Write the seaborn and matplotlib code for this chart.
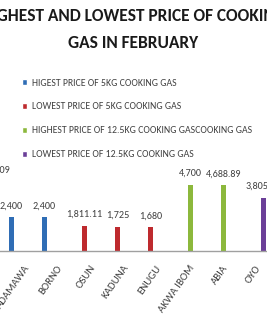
import numpy as np
import pandas as pd
import matplotlib
matplotlib.use("Agg")
import matplotlib.pyplot as plt
import seaborn as sns
from matplotlib.transforms import ScaledTranslation

# ---- data ----
series_names = [
    "HIGEST PRICE OF 5KG COOKING GAS",
    "LOWEST PRICE OF 5KG COOKING GAS",
    "HIGHEST PRICE OF 12.5KG COOKING GASCOOKING GAS",
    "LOWEST PRICE OF 12.5KG COOKING GAS",
]
series_colors = ["#2f6db5", "#be2a2e", "#8cb83c", "#6b3f98"]
states = ["RIVERS", "ADAMAWA", "BORNO", "OSUN", "KADUNA", "ENUGU",
          "AKWA IBOM", "ABIA", "OYO"]
bar_series = [series_names[2], series_names[0], series_names[0],
              series_names[1], series_names[1], series_names[1],
              series_names[2], series_names[2], series_names[3]]
prices = [4944.09, 2400, 2400, 1811.11, 1725, 1680, 4700, 4688.89, 3805.56]
title = "HIGHEST AND LOWEST PRICE OF COOKING\nGAS IN FEBRUARY"

df = pd.DataFrame({"state": states, "series": bar_series, "price": prices})

sns.set_style("white")
plt.rcParams["font.family"] = ["Carlito", "Roboto Condensed", "Archivo Narrow",
                               "PT Sans Narrow", "Lato", "DejaVu Sans"]

W, H = 267, 322
fig = plt.figure(figsize=(W / 100, H / 100), dpi=100)
ax = fig.add_axes([-27.5 / W, 71 / H, 297 / W, 84.2 / H])

sns.barplot(data=df, x="state", y="price", hue="series", order=states,
            hue_order=series_names, palette=series_colors, width=0.85,
            dodge=True, errorbar=None, saturation=1, ax=ax)

ax.set_xlim(-0.5, len(states) - 0.5)
ax.set_ylim(0, 6000)

# thinner bars (Excel gap look)
for p in ax.patches:
    cx = p.get_x() + p.get_width() / 2
    nw = 5 / 33
    p.set_width(nw)
    p.set_x(cx - nw / 2)
    p.set_linewidth(0)


def fmt(v):
    if np.isnan(v) or v == 0:
        return ""
    s = f"{v:,.2f}"
    return s[:-3] if s.endswith(".00") else s


for c in ax.containers:
    ax.bar_label(c, fmt=fmt, padding=5, fontsize=7.3, color="#404040")

ax.set_xlabel("")
ax.set_ylabel("")
ax.set_yticks([])
for s in ["left", "right", "top"]:
    ax.spines[s].set_visible(False)
ax.spines["bottom"].set_color("#a0a0a0")
ax.spines["bottom"].set_linewidth(1)

ax.tick_params(axis="x", length=0, pad=9, labelsize=7.8, labelcolor="#404040")
for lbl in ax.get_xticklabels():
    lbl.set_rotation(55)
    lbl.set_ha("right")
    lbl.set_rotation_mode("anchor")
    lbl.set_transform(lbl.get_transform() +
                      ScaledTranslation(2 / 100, 0, fig.dpi_scale_trans))

sns.move_legend(ax, loc="upper left", bbox_to_anchor=(22 / W, 1 - 78.5 / H),
                bbox_transform=fig.transFigure, frameon=False, title=None,
                fontsize=7, handlelength=0.55, handleheight=0.55,
                handletextpad=0.45, labelspacing=1.54, borderpad=0,
                borderaxespad=0, labelcolor="#404040")

fig.text(0.5, 1 - 29.5 / H, title, ha="center", va="center",
         fontsize=12.5, fontweight="bold", color="#1a1a1a", linespacing=1.9)

fig.savefig("out.png", dpi=100)
